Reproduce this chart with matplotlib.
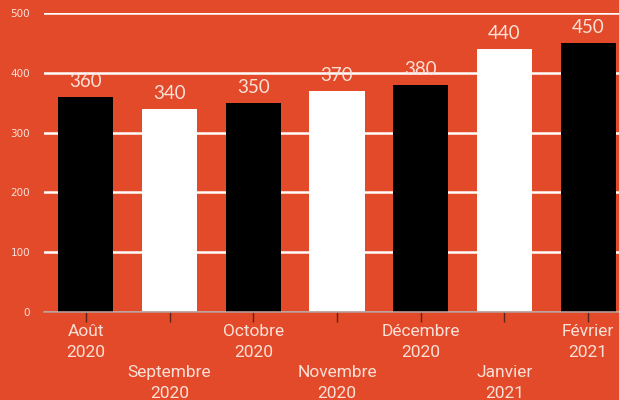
import matplotlib.pyplot as plt

# Données
mois = ["Août\n2020", "Septembre\n2020", "Octobre\n2020", "Novembre\n2020",
        "Décembre\n2020", "Janvier\n2021", "Février\n2021"]
valeurs = [360, 340, 350, 370, 380, 440, 450]
couleurs = ["black", "white", "black", "white", "black", "white", "black"]
yticks = [0, 100, 200, 300, 400, 500]

fond = "#e34a29"
texte = "#fbe0d8"

fig = plt.figure(figsize=(6.19, 4.0), dpi=100, facecolor=fond)
ax = fig.add_axes([44 / 619, 88 / 400, 586 / 619, 299 / 400])
ax.set_facecolor(fond)

x = list(range(len(mois)))
bars = ax.bar(x, valeurs, width=0.66, color=couleurs, zorder=3)

for b, v in zip(bars, valeurs):
    ax.annotate(str(v), (b.get_x() + b.get_width() / 2, v), xytext=(0, 5),
                textcoords="offset points", ha="center", va="bottom",
                fontsize=13.5, color=texte, family="Lato")

ax.set_xlim(-0.5, len(mois) - 0.5)
ax.set_ylim(0, 500)
ax.set_yticks(yticks)
ax.yaxis.grid(True, color="white", linewidth=1.8, zorder=0)
ax.set_axisbelow(True)

# étiquettes en quinconce
labels = [m if i % 2 == 0 else "\n\n" + m for i, m in enumerate(mois)]
ax.set_xticks(x)
ax.set_xticklabels(labels, fontsize=12.5, color=texte, family="Roboto",
                   linespacing=1.45)
ax.tick_params(axis="x", length=7, width=1, color="#5a2418", pad=2)
ax.tick_params(axis="y", length=0, labelsize=7.5, labelcolor=texte, pad=10)

for s in ["top", "right", "left"]:
    ax.spines[s].set_visible(False)
ax.spines["bottom"].set_color("#b89a94")
ax.spines["bottom"].set_linewidth(1.2)
ax.spines["bottom"].set_zorder(4)

fig.savefig("out.png", dpi=100, facecolor=fond)
